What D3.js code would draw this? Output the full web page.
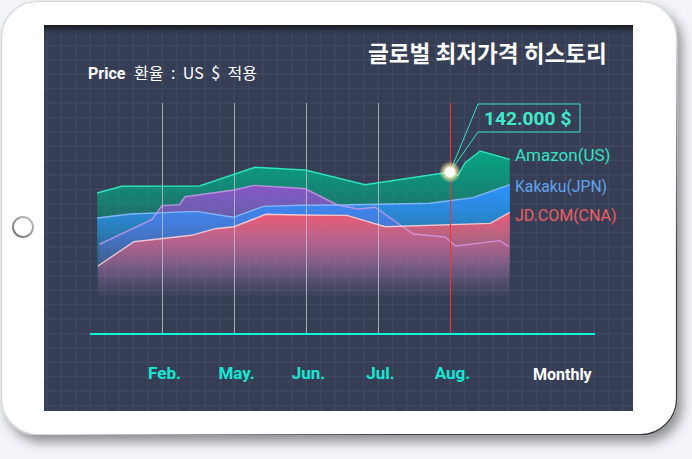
<!DOCTYPE html>
<html>
<head>
<meta charset="utf-8">
<script src="https://cdn.jsdelivr.net/npm/d3@7/dist/d3.min.js"></script>
<style>
    html, body { margin: 0; padding: 0; background: #f3f5fa; }
    svg { display: block; }
    text { font-family: Roboto, "Noto Sans CJK KR", sans-serif; }
</style>
</head>
<body>
<svg id="viz" width="692" height="459"></svg>
<script>
// x is in months counted from Feb. (0), y is price in thousand $
var monthLabels = ["Feb.", "May.", "Jun.", "Jul.", "Aug."];
var monthTicks = [0, 1, 2, 3, 4];

var amazonX = [-0.90, -0.56, 0.52, 1.29, 1.78, 1.99, 2.82, 4.00, 4.11, 4.21, 4.42, 4.83];
var amazonY = [123.6, 129.5, 129.7, 146.1, 144.4, 143.7, 130.9, 142.0, 139.1, 150.1, 160.4, 153.1];

var kakakuX = [-0.90, -0.44, 0.48, 0.99, 1.41, 1.92, 2.47, 3.72, 4.32, 4.83];
var kakakuY = [101.7, 105.2, 107.5, 102.3, 111.9, 112.8, 113.1, 114.6, 119.5, 130.9];

var jdX = [-0.89, -0.39, 0.41, 0.74, 1.00, 1.44, 1.92, 2.57, 3.10, 4.56, 4.83];
var jdY = [59.6, 80.9, 86.5, 92.3, 94.0, 104.9, 104.3, 104.0, 94.0, 97.0, 106.7];

var otherX = [-0.87, -0.14, 0, 0.24, 0.32, 1.00, 1.27, 1.92, 1.99, 2.44, 2.72, 2.96, 3.49, 3.93, 4.08, 4.69, 4.81];
var otherY = [78.6, 100.5, 112.5, 113.3, 120.3, 126.2, 130.3, 127.7, 127.3, 113.1, 109.6, 111.1, 87.6, 85.0, 77.1, 81.8, 77.1];

var highlightX = 4;
var highlightY = 142;
var highlightLabel = "142.000 $";

var svg = d3.select("#viz");
var defs = svg.append("defs");

var xScale = d3.scaleLinear().domain([0, 4]).range([162, 450]);
var yScale = d3.scaleLinear().domain([0, 142]).range([334, 172]);

//TABLET FRAME
var shadow = defs.append("filter").attr("id", "tabletShadow")
    .attr("x", "-5%").attr("y", "-5%").attr("width", "112%").attr("height", "115%");
shadow.append("feDropShadow")
    .attr("dx", 5).attr("dy", 7).attr("stdDeviation", 6)
    .attr("flood-color", "#000").attr("flood-opacity", 0.42);

var frameEdge = defs.append("linearGradient").attr("id", "frameEdge")
    .attr("x1", 0).attr("y1", 0).attr("x2", 1).attr("y2", 1);
frameEdge.append("stop").attr("offset", "0.55").attr("stop-color", "#d6d6d6");
frameEdge.append("stop").attr("offset", "0.8").attr("stop-color", "#3c3c3c");

svg.append("rect")
    .attr("x", 1.5).attr("y", 1.5).attr("width", 675).attr("height", 433)
    .attr("rx", 36).attr("fill", "#fff")
    .attr("stroke", "url(#frameEdge)").attr("stroke-width", 1.2)
    .attr("filter", "url(#tabletShadow)");

var ringFade = defs.append("linearGradient").attr("id", "ringFade")
    .attr("x1", 1).attr("y1", 0).attr("x2", 0).attr("y2", 1);
ringFade.append("stop").attr("offset", 0).attr("stop-color", "#c4c4c4");
ringFade.append("stop").attr("offset", 1).attr("stop-color", "#707070");
svg.append("circle")
    .attr("cx", 23).attr("cy", 227).attr("r", 10)
    .attr("fill", "none").attr("stroke", "url(#ringFade)").attr("stroke-width", 2);

//PANEL AND GRID
svg.append("rect")
    .attr("x", 44).attr("y", 25).attr("width", 589).attr("height", 386)
    .attr("fill", "#353e54");

var grid = svg.append("g").attr("stroke", "#3f485e").attr("stroke-width", 1.5);
grid.selectAll(".gv").data(d3.range(47, 633, 14.4)).enter().append("line")
    .attr("class", "gv")
    .attr("x1", function (d) { return d; }).attr("x2", function (d) { return d; })
    .attr("y1", 25).attr("y2", 411);
grid.selectAll(".gh").data(d3.range(31, 411, 14.4)).enter().append("line")
    .attr("class", "gh")
    .attr("y1", function (d) { return d; }).attr("y2", function (d) { return d; })
    .attr("x1", 44).attr("x2", 633);

var topShade = defs.append("linearGradient").attr("id", "topShade")
    .attr("x1", 0).attr("y1", 0).attr("x2", 0).attr("y2", 1);
topShade.append("stop").attr("offset", 0).attr("stop-color", "#15181f").attr("stop-opacity", 0.95);
topShade.append("stop").attr("offset", 1).attr("stop-color", "#15181f").attr("stop-opacity", 0);
svg.append("rect")
    .attr("x", 44).attr("y", 25).attr("width", 589).attr("height", 9)
    .attr("fill", "url(#topShade)");

//GRADIENTS, fixed to the plot so every area fades at the same height
function addGradient(id, color, y1, y2, stops) {
    var g = defs.append("linearGradient").attr("id", id)
        .attr("gradientUnits", "userSpaceOnUse")
        .attr("x1", 0).attr("x2", 0).attr("y1", y1).attr("y2", y2);
    stops.forEach(function (s) {
        g.append("stop").attr("offset", s[0]).attr("stop-color", color).attr("stop-opacity", s[1]);
    });
}
var backFade = [[0, 1], [0.6, 0.3], [0.85, 0.08], [1, 0]];
var frontFade = [[0, 1], [0.4, 0.6], [0.75, 0.2], [1, 0]];
addGradient("fillAmazon", "#06a684", 150, 298, backFade);
addGradient("fillOther", "#8a55c8", 185, 298, backFade);
addGradient("fillKakaku", "#2f90ff", 185, 298, backFade);
addGradient("fillJd", "#ee5a70", 212, 298, frontFade);

function zip(xs, ys) {
    return xs.map(function (x, i) { return { x: x, y: ys[i] }; });
}

var area = d3.area()
    .x(function (d) { return xScale(d.x); })
    .y0(yScale(0))
    .y1(function (d) { return yScale(d.y); });
var line = d3.line()
    .x(function (d) { return xScale(d.x); })
    .y(function (d) { return yScale(d.y); });

var series = [
    { data: zip(amazonX, amazonY), fill: "url(#fillAmazon)", stroke: "#2be4be", lineOpacity: 1 },
    { data: zip(otherX, otherY), fill: "url(#fillOther)", stroke: "#d49cea", lineOpacity: 0.8 },
    { data: zip(kakakuX, kakakuY), fill: "url(#fillKakaku)", stroke: "#8dbcff", lineOpacity: 0.9 },
    { data: zip(jdX, jdY), fill: "url(#fillJd)", stroke: "#ffd6d8", lineOpacity: 0.85 }
];

svg.selectAll(".area").data(series).enter().append("path")
    .attr("class", "area")
    .attr("d", function (d) { return area(d.data); })
    .attr("fill", function (d) { return d.fill; });

//MONTH LINES
svg.selectAll(".month-line").data(monthTicks.slice(0, 4)).enter().append("line")
    .attr("class", "month-line")
    .attr("x1", function (d) { return xScale(d) + 0.5; })
    .attr("x2", function (d) { return xScale(d) + 0.5; })
    .attr("y1", 103).attr("y2", yScale(0))
    .attr("stroke", "#c4c8d0").attr("stroke-opacity", 0.75).attr("stroke-width", 1);

svg.selectAll(".line").data(series).enter().append("path")
    .attr("class", "line")
    .attr("d", function (d) { return line(d.data); })
    .attr("fill", "none")
    .attr("stroke", function (d) { return d.stroke; })
    .attr("stroke-opacity", function (d) { return d.lineOpacity; })
    .attr("stroke-width", 1.4);

svg.append("line")
    .attr("x1", xScale(highlightX) + 0.5).attr("x2", xScale(highlightX) + 0.5)
    .attr("y1", 103).attr("y2", yScale(0))
    .attr("stroke", "#ff2e2e").attr("stroke-width", 1);

svg.append("line")
    .attr("x1", 90).attr("x2", 595)
    .attr("y1", yScale(0)).attr("y2", yScale(0))
    .attr("stroke", "#0ff5dc").attr("stroke-width", 2);

// month labels sit a little right of their lines
var xAxis = d3.axisBottom(xScale)
    .tickValues(monthTicks)
    .tickSize(0)
    .tickPadding(33)
    .tickFormat(function (d, i) { return monthLabels[i]; });
var axisG = svg.append("g")
    .attr("transform", "translate(2," + yScale(0) + ")")
    .call(xAxis);
axisG.select(".domain").remove();
axisG.selectAll("text")
    .attr("fill", "#14e8d4")
    .style("font-size", "17px")
    .style("font-weight", 700);

svg.append("text").attr("x", 533).attr("y", 380)
    .attr("fill", "#fff").style("font-size", "16px").style("font-weight", 700)
    .text("Monthly");

//TITLES
svg.append("text").attr("x", 368).attr("y", 62)
    .attr("fill", "#fff")
    .style("font-family", '"Noto Sans CJK KR"').style("font-size", "22.6px").style("font-weight", 700)
    .text("글로벌 최저가격 히스토리");
svg.append("text").attr("x", 88).attr("y", 79)
    .attr("fill", "#fff").style("font-size", "16px").style("font-weight", 700)
    .text("Price");
svg.append("text").attr("x", 134).attr("y", 79)
    .attr("fill", "#fff")
    .style("font-family", '"Noto Sans CJK KR"').style("font-size", "16px").style("word-spacing", "3.9px")
    .text("환율 : US $ 적용");

//LEGEND
var legendNames = ["Amazon(US)", "Kakaku(JPN)", "JD.COM(CNA)"];
var legendColors = ["#36e2c2", "#62a2ee", "#ee5f60"];
var legendBaselines = [161, 192, 221];
var legendSizes = [17, 15.7, 16];
svg.selectAll(".legend").data(legendNames).enter().append("text")
    .attr("class", "legend")
    .attr("x", 515)
    .attr("y", function (d, i) { return legendBaselines[i]; })
    .attr("fill", function (d, i) { return legendColors[i]; })
    .style("font-size", function (d, i) { return legendSizes[i] + "px"; })
    .text(function (d) { return d; });

//HIGHLIGHT CALLOUT
var hx = xScale(highlightX), hy = yScale(highlightY);
svg.append("path")
    .attr("d", d3.line()([[hx, hy], [478, 104], [580, 104], [580, 132], [478, 132], [hx, hy]]))
    .attr("fill", "none")
    .attr("stroke", "#36e4c4").attr("stroke-width", 1);
svg.append("text").attr("x", 484).attr("y", 125)
    .attr("fill", "#3feaca").style("font-size", "19.2px").style("font-weight", 700)
    .text(highlightLabel);

var glow = defs.append("radialGradient").attr("id", "glow");
glow.append("stop").attr("offset", 0.4).attr("stop-color", "#fff8c8").attr("stop-opacity", 1);
glow.append("stop").attr("offset", 1).attr("stop-color", "#ffe98a").attr("stop-opacity", 0);
svg.append("circle").attr("cx", hx).attr("cy", hy).attr("r", 11).attr("fill", "url(#glow)");
svg.append("circle").attr("cx", hx).attr("cy", hy).attr("r", 5).attr("fill", "#fff");
</script>
</body>
</html>
